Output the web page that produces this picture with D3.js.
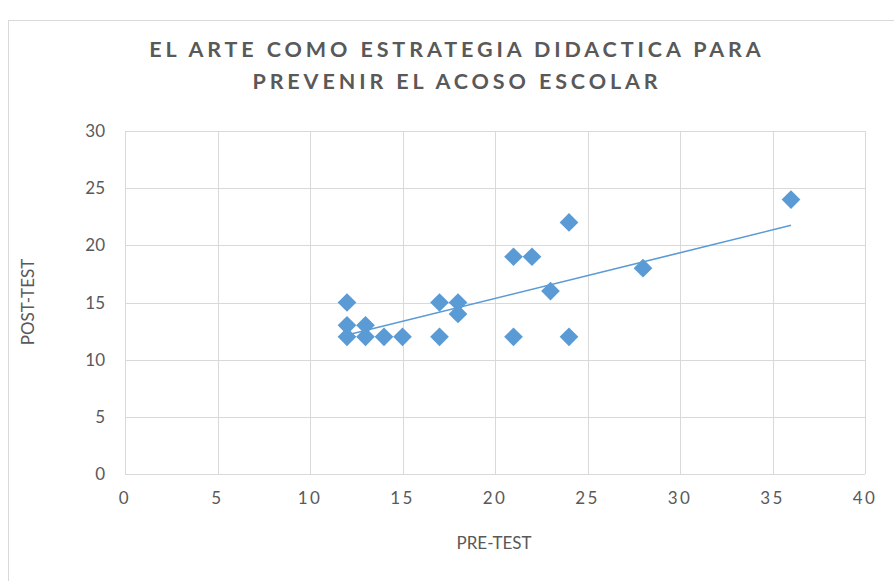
<!DOCTYPE html>
<html>
<head>
<meta charset="utf-8">
<script src="https://cdn.jsdelivr.net/npm/d3@7"></script>
<style>
  body { margin: 0; background: #fff; }
  text { font-family: Lato, "Open Sans", sans-serif; fill: #595959; }
</style>
</head>
<body>
<div class="d3Chart"></div>
<script>
// data
var preTest  = [12, 12, 12, 13, 13, 14, 15, 17, 17, 18, 18, 21, 21, 22, 23, 24, 24, 28, 36];
var postTest = [15, 13, 12, 13, 12, 12, 12, 15, 12, 15, 14, 19, 12, 19, 16, 22, 12, 18, 24];
var xTicks = [0, 5, 10, 15, 20, 25, 30, 35, 40];
var yTicks = [0, 5, 10, 15, 20, 25, 30];
// linear trendline as shown in the picture
var trendSlope = 0.40;
var trendIntercept = 7.35;
var titleLines = ["EL ARTE COMO ESTRATEGIA DIDACTICA PARA", "PREVENIR EL ACOSO ESCOLAR"];

var points = preTest.map((x, i) => ({ x: x, y: postTest[i] }));

var width = 894;
var height = 581;
var svg = d3.select(".d3Chart")
  .append("svg")
  .attr("width", width)
  .attr("height", height);

// chart border
svg.append("rect")
  .attr("x", 8.5).attr("y", 20.5)
  .attr("width", 900).attr("height", 600)
  .attr("fill", "none")
  .attr("stroke", "#d9d9d9");

var x = d3.scaleLinear().domain([0, 40]).range([125, 865]);
var y = d3.scaleLinear().domain([0, 30]).range([474, 131]);

// gridlines
svg.append("g")
  .selectAll("line")
  .data(xTicks)
  .enter()
  .append("line")
  .attr("x1", (d) => Math.round(x(d)) + 0.5)
  .attr("x2", (d) => Math.round(x(d)) + 0.5)
  .attr("y1", y(0)).attr("y2", y(30))
  .attr("stroke", "#d9d9d9");

svg.append("g")
  .selectAll("line")
  .data(yTicks)
  .enter()
  .append("line")
  .attr("y1", (d) => Math.round(y(d)) + 0.5)
  .attr("y2", (d) => Math.round(y(d)) + 0.5)
  .attr("x1", x(0)).attr("x2", x(40))
  .attr("stroke", "#d9d9d9");

// tick labels
svg.append("g")
  .selectAll("text")
  .data(xTicks)
  .enter()
  .append("text")
  .attr("x", (d) => x(d))
  .attr("y", 504)
  .attr("text-anchor", "middle")
  .attr("font-size", 17)
  .attr("letter-spacing", 2.5)
  .text((d) => d);

svg.append("g")
  .selectAll("text")
  .data(yTicks)
  .enter()
  .append("text")
  .attr("x", 105)
  .attr("y", (d) => y(d) + 6)
  .attr("text-anchor", "end")
  .attr("font-size", 17)
  .text((d) => d);

// axis titles
svg.append("text")
  .attr("x", 494).attr("y", 549)
  .attr("text-anchor", "middle")
  .attr("font-size", 17)
  .text("PRE-TEST");

svg.append("text")
  .attr("transform", "translate(34,302) rotate(-90)")
  .attr("text-anchor", "middle")
  .attr("font-size", 17)
  .text("POST-TEST");

// title
svg.append("g")
  .selectAll("text")
  .data(titleLines)
  .enter()
  .append("text")
  .attr("x", 457)
  .attr("y", (d, i) => 57 + i * 32)
  .attr("text-anchor", "middle")
  .attr("font-size", 21.5)
  .attr("font-weight", "bold")
  .attr("letter-spacing", 3.9)
  .text((d) => d);

// trendline
var xExt = d3.extent(preTest);
svg.append("line")
  .attr("x1", x(xExt[0])).attr("y1", y(trendIntercept + trendSlope * xExt[0]))
  .attr("x2", x(xExt[1])).attr("y2", y(trendIntercept + trendSlope * xExt[1]))
  .attr("stroke", "#5b9bd5")
  .attr("stroke-width", 1.6);

// markers
var diamond = d3.symbol().type(d3.symbolSquare).size(175);
svg.append("g")
  .selectAll("path")
  .data(points)
  .enter()
  .append("path")
  .attr("d", diamond)
  .attr("transform", (d) => "translate(" + x(d.x) + "," + y(d.y) + ") rotate(45)")
  .attr("fill", "#5b9bd5");
</script>
</body>
</html>
